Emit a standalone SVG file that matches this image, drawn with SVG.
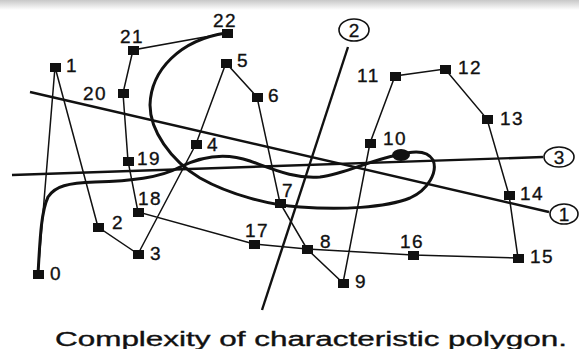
<svg xmlns="http://www.w3.org/2000/svg" width="579" height="349" viewBox="0 0 579 349">
<defs>
<linearGradient id="topshade" x1="0" y1="0" x2="0" y2="1">
<stop offset="0" stop-color="#c8c8c8"/>
<stop offset="1" stop-color="#ffffff"/>
</linearGradient>
<style>
.pt{fill:#111}
.lb{font-family:"Liberation Sans",Arial,sans-serif;font-size:19px;letter-spacing:1.5px;fill:#111;stroke:#111;stroke-width:0.35}
.edge{stroke:#111;stroke-width:1.5;fill:none}
.axis{stroke:#111;stroke-width:2.4;fill:none}
.curve{stroke:#111;stroke-width:3;fill:none;stroke-linecap:round}
.tag{fill:#fff;stroke:#111;stroke-width:1.6}
.tagt{font-family:"Liberation Sans",Arial,sans-serif;font-size:19px;fill:#111;text-anchor:middle;stroke:#111;stroke-width:0.3}
.cap{font-family:"Liberation Sans",Arial,sans-serif;font-size:20px;fill:#111;stroke:#111;stroke-width:0.35}
</style>
</defs>
<rect width="579" height="349" fill="#fff"/>
<rect width="579" height="10" fill="url(#topshade)"/>

<g id="connectors">
<g id="polygon">
<polyline class="edge" points="38,274 55,67 98,227 138,254 196,144 226,63 257,97 280,203 307,249 343,283 370,143 395,76 445,69 487,119 509,195 518,258 413,255 307,249 254,244 138,212 128,161 123,93 133,50 227,33"/>
</g>
<g id="axes">
<line class="axis" x1="30" y1="92" x2="549" y2="212"/>
<line class="axis" x1="348" y1="47" x2="262" y2="310"/>
<line class="axis" x1="12" y1="175" x2="543" y2="157"/>
</g>
<g id="curve">
<path class="curve" d="M38,274 C40,240 41,212 48,197 C55,186 68,183 95,182 C130,181 160,178 180,167 C200,157 225,152 250,161 C275,170 295,179 320,177 C345,174 370,160 398,155 C415,150 428,151 433,160 C438,172 428,190 410,198 C385,208 340,210 300,207 C270,205 230,195 200,178 C170,160 150,130 150,105 C151,70 180,40 226,33"/>
<ellipse cx="401" cy="155" rx="9" ry="6" fill="#111"/>
</g>
</g>

<g id="tag-1"><ellipse class="tag" cx="564" cy="214" rx="14" ry="10"/><text class="tagt" x="564" y="221">1</text></g>
<g id="tag-2"><ellipse class="tag" cx="354" cy="30" rx="15" ry="11"/><text class="tagt" x="354" y="37">2</text></g>
<g id="tag-3"><ellipse class="tag" cx="559" cy="157" rx="15" ry="10"/><text class="tagt" x="559" y="164">3</text></g>

<g id="node-0"><rect class="pt" x="33" y="270" width="11" height="9"/><text class="lb" x="50" y="280">0</text></g>
<g id="node-1"><rect class="pt" x="50" y="63" width="11" height="9"/><text class="lb" x="66" y="72">1</text></g>
<g id="node-2"><rect class="pt" x="93" y="223" width="11" height="9"/><text class="lb" x="112" y="229">2</text></g>
<g id="node-3"><rect class="pt" x="133" y="250" width="11" height="9"/><text class="lb" x="150" y="260">3</text></g>
<g id="node-4"><rect class="pt" x="191" y="140" width="11" height="9"/><text class="lb" x="207" y="151">4</text></g>
<g id="node-5"><rect class="pt" x="221" y="59" width="11" height="9"/><text class="lb" x="237" y="67">5</text></g>
<g id="node-6"><rect class="pt" x="252" y="93" width="11" height="9"/><text class="lb" x="268" y="102">6</text></g>
<g id="node-7"><rect class="pt" x="275" y="199" width="11" height="9"/><text class="lb" x="282" y="197">7</text></g>
<g id="node-8"><rect class="pt" x="302" y="245" width="11" height="9"/><text class="lb" x="320" y="248">8</text></g>
<g id="node-9"><rect class="pt" x="338" y="279" width="11" height="9"/><text class="lb" x="355" y="288">9</text></g>
<g id="node-10"><rect class="pt" x="365" y="139" width="11" height="9"/><text class="lb" x="383" y="145">10</text></g>
<g id="node-11"><rect class="pt" x="390" y="72" width="11" height="9"/><text class="lb" x="357" y="82">11</text></g>
<g id="node-12"><rect class="pt" x="440" y="65" width="11" height="9"/><text class="lb" x="458" y="74">12</text></g>
<g id="node-13"><rect class="pt" x="482" y="115" width="11" height="9"/><text class="lb" x="500" y="125">13</text></g>
<g id="node-14"><rect class="pt" x="504" y="191" width="11" height="9"/><text class="lb" x="520" y="200">14</text></g>
<g id="node-15"><rect class="pt" x="513" y="254" width="11" height="9"/><text class="lb" x="530" y="263">15</text></g>
<g id="node-16"><rect class="pt" x="408" y="251" width="11" height="9"/><text class="lb" x="400" y="248">16</text></g>
<g id="node-17"><rect class="pt" x="249" y="240" width="11" height="9"/><text class="lb" x="245" y="237">17</text></g>
<g id="node-18"><rect class="pt" x="133" y="208" width="11" height="9"/><text class="lb" x="138" y="205">18</text></g>
<g id="node-19"><rect class="pt" x="123" y="157" width="11" height="9"/><text class="lb" x="137" y="165">19</text></g>
<g id="node-20"><rect class="pt" x="118" y="89" width="11" height="9"/><text class="lb" x="83" y="100">20</text></g>
<g id="node-21"><rect class="pt" x="128" y="46" width="11" height="9"/><text class="lb" x="120" y="43">21</text></g>
<g id="node-22"><rect class="pt" x="222" y="29" width="11" height="9"/><text class="lb" x="213" y="27">22</text></g>

<text class="cap" x="55" y="346" textLength="512" lengthAdjust="spacingAndGlyphs">Complexity of characteristic polygon.</text>
</svg>
